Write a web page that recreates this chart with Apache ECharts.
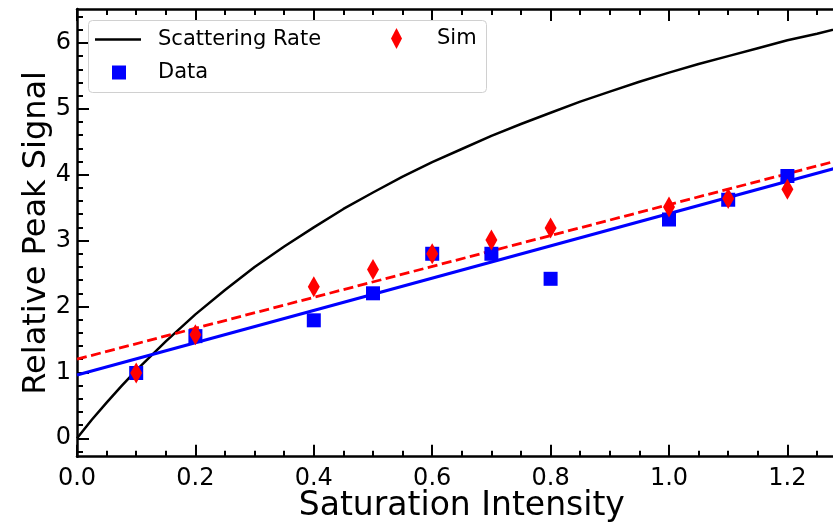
<!DOCTYPE html>
<html><head><meta charset="utf-8">
<script src="https://cdn.jsdelivr.net/npm/echarts@6/dist/echarts.min.js"></script>
<style>html,body{margin:0;padding:0;background:#fff}#c{width:833px;height:523px}</style>
</head><body><div id="c"></div>
<script>
// ---- data ----
const xMajorTicks = [0, 0.2, 0.4, 0.6, 0.8, 1.0, 1.2];
const xMinorTicks = [0.05, 0.1, 0.15, 0.25, 0.3, 0.35, 0.45, 0.5, 0.55, 0.65, 0.7, 0.75, 0.85, 0.9, 0.95, 1.05, 1.1, 1.15, 1.25];
const yMajorTicks = [0, 1, 2, 3, 4, 5, 6];
const yMinorTicks = [-0.2, 0.2, 0.4, 0.6, 0.8, 1.2, 1.4, 1.6, 1.8, 2.2, 2.4, 2.6, 2.8, 3.2, 3.4, 3.6, 3.8, 4.2, 4.4, 4.6, 4.8, 5.2, 5.4, 5.6, 5.8, 6.2, 6.4];

const curveX = [0, 0.025, 0.05, 0.075, 0.1, 0.15, 0.2, 0.25, 0.3, 0.35, 0.4, 0.45, 0.5, 0.55, 0.6, 0.65, 0.7, 0.75, 0.8, 0.85, 0.9, 0.95, 1.0, 1.05, 1.1, 1.15, 1.2, 1.25, 1.3];
const curveY = [0, 0.28, 0.54, 0.79, 1.03, 1.47, 1.88, 2.25, 2.60, 2.91, 3.20, 3.48, 3.73, 3.97, 4.19, 4.39, 4.59, 4.77, 4.94, 5.11, 5.26, 5.41, 5.55, 5.68, 5.80, 5.92, 6.04, 6.14, 6.25];

const dataX = [0.1, 0.2, 0.4, 0.5, 0.6, 0.7, 0.8, 1.0, 1.1, 1.2];
const dataY = [0.99, 1.55, 1.79, 2.20, 2.80, 2.80, 2.42, 3.32, 3.62, 3.98];
const simX  = [0.1, 0.2, 0.4, 0.5, 0.6, 0.7, 0.8, 1.0, 1.1, 1.2];
const simY  = [0.99, 1.57, 2.30, 2.56, 2.80, 3.01, 3.19, 3.51, 3.64, 3.78];

const fitX = [0, 1.3];
const dataFitY = [0.96, 4.145];
const simFitY  = [1.20, 4.25];

// ---- chart ----
const FONT = 'DejaVu Sans';
const X_MIN = 0, X_MAX = 1.3, Y_MIN = -0.28, Y_MAX = 6.515;
const zip = (a, b) => a.map((v, i) => [v, b[i]]);

function xAx(pos, ticks, len, showLine, labels) {
  const a = {
    type: 'value', position: pos, min: X_MIN, max: X_MAX,
    axisLine: {show: showLine, onZero: false, lineStyle: {color: '#000', width: 2.5}},
    axisTick: {show: true, inside: true, length: len, customValues: ticks, lineStyle: {color: '#000', width: 2}},
    axisLabel: {show: false}, splitLine: {show: false}, minorTick: {show: false}
  };
  if (labels) {
    a.axisLabel = {show: true, customValues: ticks, formatter: v => v.toFixed(1), fontSize: 24, fontFamily: FONT, color: '#000', margin: 10};
    a.name = 'Saturation Intensity';
    a.nameLocation = 'middle';
    a.nameGap = 33;
    a.nameMoveOverlap = false;
    a.nameTextStyle = {fontSize: 33, fontFamily: FONT, color: '#000'};
  }
  return a;
}
function yAx(pos, ticks, len, showLine, labels) {
  const a = {
    type: 'value', position: pos, min: Y_MIN, max: Y_MAX,
    axisLine: {show: showLine, onZero: false, lineStyle: {color: '#000', width: 2.5}},
    axisTick: {show: true, inside: true, length: len, customValues: ticks, lineStyle: {color: '#000', width: 2}},
    axisLabel: {show: false}, splitLine: {show: false}, minorTick: {show: false}
  };
  if (labels) {
    a.axisLabel = {show: true, customValues: ticks, formatter: v => String(v), fontSize: 24, fontFamily: FONT, color: '#000', margin: 6};
    a.name = 'Relative Peak Signal';
    a.nameLocation = 'middle';
    a.nameGap = 24;
    a.nameMoveOverlap = false;
    a.nameTextStyle = {fontSize: 32, fontFamily: FONT, color: '#000'};
  }
  return a;
}

const chart = echarts.init(document.getElementById('c'), null, {renderer: 'canvas'});
const legendText = pad => ({fontSize: 21, fontFamily: FONT, color: '#000', padding: [0, 0, 0, pad]});
chart.setOption({
  animation: false,
  backgroundColor: '#fff',
  grid: {left: 77, top: 9, width: 769.6, height: 447.7, containLabel: false, outerBoundsMode: 'none'},
  xAxis: [
    xAx('bottom', xMajorTicks, 12, true, true),
    xAx('bottom', xMinorTicks, 6, false, false),
    xAx('top', xMajorTicks, 12, true, false),
    xAx('top', xMinorTicks, 6, false, false)
  ],
  yAxis: [
    yAx('left', yMajorTicks, 12, true, true),
    yAx('left', yMinorTicks, 6, false, false),
    yAx('right', yMajorTicks, 12, true, false),
    yAx('right', yMinorTicks, 6, false, false)
  ],
  graphic: [{
    type: 'rect', left: 88, top: 20, z: 3,
    shape: {width: 398, height: 72, r: 4},
    style: {fill: 'rgba(255,255,255,0.85)', stroke: '#d0d0d0', lineWidth: 1}
  }],
  legend: [
    {data: [{name: 'Scattering Rate', icon: 'path://M0,0H46V2.5H0Z'}], left: 95, top: 29, padding: 0, itemWidth: 46, itemHeight: 14, selectedMode: false, textStyle: legendText(12)},
    {data: [{name: 'Data', icon: 'rect'}], left: 112, top: 62, padding: 0, itemWidth: 14, itemHeight: 14, selectedMode: false, textStyle: legendText(27)},
    {data: [{name: 'Sim', icon: 'diamond'}], left: 391, top: 28, padding: 0, itemWidth: 11, itemHeight: 21, selectedMode: false, textStyle: legendText(30)}
  ],
  series: [
    {name: 'Scattering Rate', type: 'line', data: zip(curveX, curveY), symbol: 'none', smooth: false,
     lineStyle: {color: '#000', width: 2.5}, itemStyle: {color: '#000'}, z: 2},
    {name: 'Data fit', type: 'line', data: zip(fitX, dataFitY), symbol: 'none',
     lineStyle: {color: '#0000ff', width: 3}, z: 2},
    {name: 'Sim fit', type: 'line', data: zip(fitX, simFitY), symbol: 'none',
     lineStyle: {color: '#ff0000', width: 2.8, type: [10, 4.5]}, z: 2},
    {name: 'Data', type: 'scatter', data: zip(dataX, dataY), symbol: 'rect', symbolSize: 14,
     itemStyle: {color: '#0000ff', opacity: 1}, z: 3},
    {name: 'Sim', type: 'scatter', data: zip(simX, simY), symbol: 'diamond', symbolSize: [12, 21],
     itemStyle: {color: '#ff0000', opacity: 1}, z: 4}
  ]
});
</script>
</body></html>
